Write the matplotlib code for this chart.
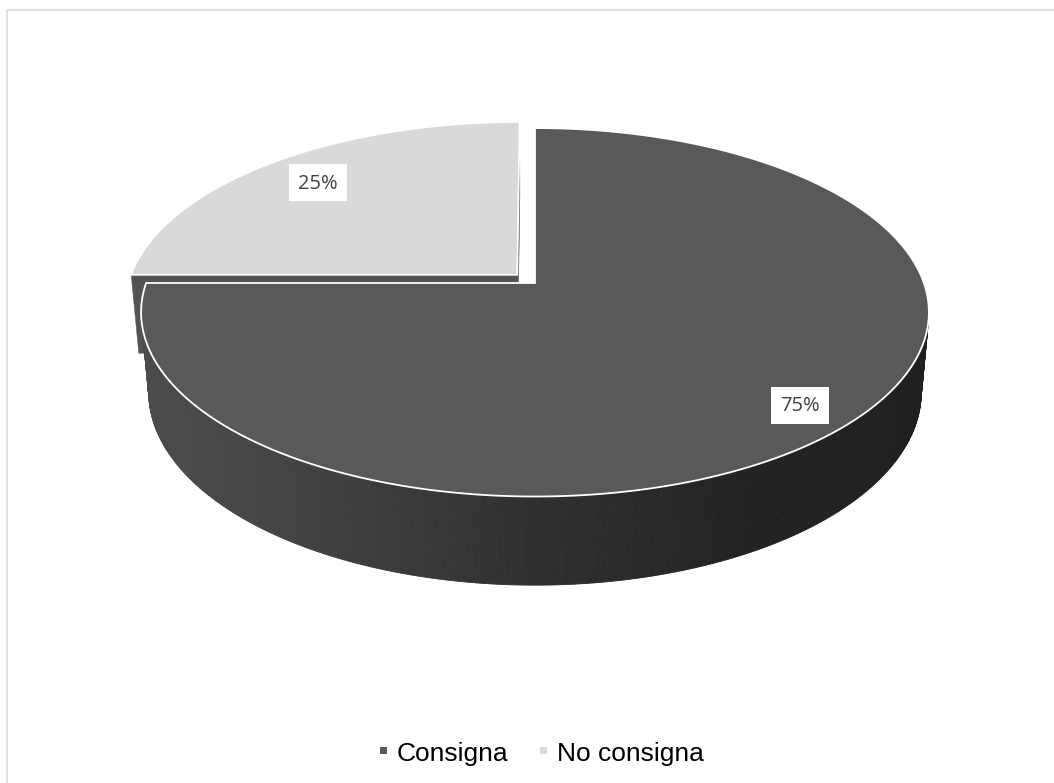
import numpy as np
import matplotlib
matplotlib.use("Agg")
import matplotlib.pyplot as plt
from matplotlib.patches import Polygon, Rectangle
from matplotlib.collections import PolyCollection

# ---- data ----
categories = ["Consigna", "No consigna"]
values = [75, 25]
top_colors = ["#595959", "#d9d9d9"]
side_colors = [None, "#535353"]      # None -> shaded gradient along the wall
explode = [0.0, 0.065]

W, H = 1054, 783
fig = plt.figure(figsize=(W / 100, H / 100), dpi=100)
ax = fig.add_axes([0, 0, 1, 1])
ax.set_xlim(0, W)
ax.set_ylim(H, 0)
ax.axis("off")

# ---- perspective camera for the 3-D pie (unit radius disc, z up) ----
ELEV = np.radians(27.5)
DIST = 5.58
FOCAL = 2170.0
CX, CY = 535.0, 283.0
THICK = 0.233
CAM = np.array([0.0, -DIST * np.cos(ELEV), DIST * np.sin(ELEV)])


def project(x, y, z):
    x = np.asarray(x, float)
    y = np.asarray(y, float)
    z = np.asarray(z, float)
    depth = DIST + y * np.cos(ELEV) - z * np.sin(ELEV)
    sx = FOCAL * x / depth
    sy = FOCAL * (y * np.sin(ELEV) + z * np.cos(ELEV)) / depth
    return CX + sx, CY - sy


def wall_shade(px):
    xs = [140, 300, 540, 760, 930]
    gs = [0x4b, 0x42, 0x2f, 0x22, 0x20]
    g = np.interp(px, xs, gs) / 255.0
    return (g, g, g)


total = float(sum(values))
slices = []
start = 90.0
for i, v in enumerate(values):
    sweep = 360.0 * v / total
    a0, a1 = start, start - sweep
    mid = np.radians((a0 + a1) / 2)
    ox, oy = explode[i] * np.cos(mid), explode[i] * np.sin(mid)
    slices.append(dict(i=i, a0=a0, a1=a1, mid=mid, ox=ox, oy=oy))
    start = a1

# paint back slices first
order = sorted(slices, key=lambda s: -np.sin(s["mid"]))

for s in order:
    i, a0, a1, ox, oy = s["i"], s["a0"], s["a1"], s["ox"], s["oy"]
    t = np.radians(np.linspace(a0, a1, 600))
    rx, ry = ox + np.cos(t), oy + np.sin(t)

    # radial cut faces
    for ang, nsign in ((a0, 1), (a1, -1)):
        ar = np.radians(ang)
        nrm = np.array([np.cos(ar + nsign * np.pi / 2), np.sin(ar + nsign * np.pi / 2), 0.0])
        if np.dot(nrm, CAM - np.array([ox, oy, 0.0])) <= 0:
            continue
        px = [ox, ox + np.cos(ar), ox + np.cos(ar), ox]
        py = [oy, oy + np.sin(ar), oy + np.sin(ar), oy]
        pz = [0, 0, -THICK, -THICK]
        X, Y = project(px, py, pz)
        col = side_colors[i] if side_colors[i] else wall_shade(np.mean(X))
        ax.add_patch(Polygon(np.column_stack([X, Y]), closed=True,
                             facecolor=col, edgecolor=col, lw=0.3, zorder=2))

    # outer curved wall, front-facing strips only
    Xt, Yt = project(rx, ry, np.zeros_like(rx))
    Xb, Yb = project(rx, ry, np.full_like(rx, -THICK))
    vis = (-np.cos(t) * ox - np.sin(t) * oy - 1 - DIST * np.cos(ELEV) * np.sin(t)) > 0
    quads, cols = [], []
    for k in range(len(t) - 1):
        if not (vis[k] and vis[k + 1]):
            continue
        q = [(Xt[k], Yt[k]), (Xt[k + 1], Yt[k + 1]), (Xb[k + 1], Yb[k + 1]), (Xb[k], Yb[k])]
        quads.append(q)
        xm = 0.5 * (Xt[k] + Xt[k + 1])
        cols.append(side_colors[i] if side_colors[i] else wall_shade(xm))
    if quads:
        pc = PolyCollection(quads, facecolors=cols, edgecolors=cols, linewidths=0.6, zorder=2)
        ax.add_collection(pc)

    # top face
    ax0, ay0 = project(ox, oy, 0.0)
    top = np.vstack([[ax0, ay0], np.column_stack([Xt, Yt]), [ax0, ay0]])
    ax.add_patch(Polygon(top, closed=True, facecolor=top_colors[i],
                         edgecolor="white", lw=1.3, joinstyle="miter", zorder=3))

# ---- data labels ----
label_r = [0.87, 0.8]
for s in slices:
    i = s["i"]
    r = label_r[i]
    lx, ly = project(s["ox"] + r * np.cos(s["mid"]), s["oy"] + r * np.sin(s["mid"]), 0.0)
    bw, bh = 58, 37
    ax.add_patch(Rectangle((lx - bw / 2, ly - bh / 2), bw, bh, facecolor="white",
                           edgecolor="none", zorder=5))
    pct = 100.0 * values[i] / total
    ax.text(lx, ly + 1, f"{pct:.0f}%", ha="center", va="center", fontsize=14.5,
            family="Open Sans", color="#404040", zorder=6)

# ---- legend ----
leg_y = 761
leg_x = [380, 540]
for i, name in enumerate(categories):
    ax.add_patch(Rectangle((leg_x[i], leg_y - 14), 7, 7, facecolor=top_colors[i],
                           edgecolor="none", zorder=5))
    ax.text(leg_x[i] + 17, leg_y, name, ha="left", va="baseline", fontsize=19,
            family="Liberation Sans", color="#000000", zorder=6)

# chart area border
ax.add_patch(Rectangle((6.5, 9.5), 1200, 1000, facecolor="none", edgecolor="#d9d9d9",
                       lw=1.1, zorder=1))

fig.savefig("out.png", dpi=100)
